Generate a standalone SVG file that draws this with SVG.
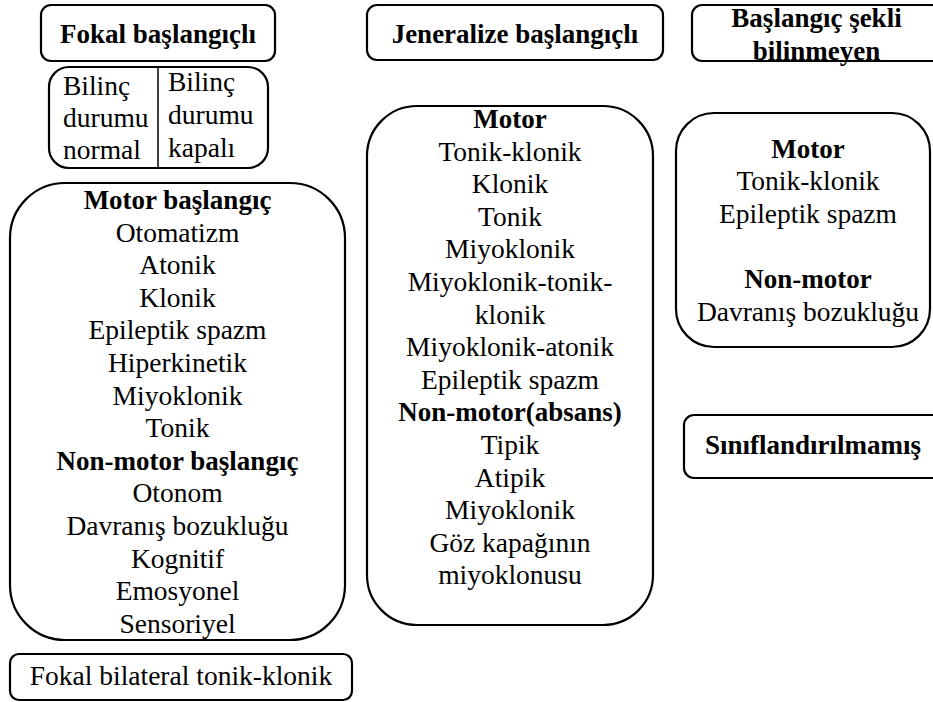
<svg xmlns="http://www.w3.org/2000/svg" width="933" height="702" viewBox="0 0 933 702">
<style>
.box{fill:#fff;stroke:#000;stroke-width:2.2}
.t{font-size:27.5px;fill:#000;text-anchor:middle}
.b{font-weight:bold;font-size:27px}
.l{text-anchor:start}
</style>
<rect width="933" height="702" fill="#fff"/>
<g id="connectors"></g>
<g id="nodes" font-family="Liberation Serif, Times New Roman, serif">
<g id="fokal">
<rect class="box" x="41" y="5" width="234" height="56" rx="10"/>
<text class="t b" x="158" y="43">Fokal başlangıçlı</text>
</g>
<g id="bilinc">
<rect class="box" x="49" y="67" width="219" height="101" rx="20"/>
<line x1="158" y1="67" x2="158" y2="168" stroke="#000" stroke-width="1.5"/>
<text class="t l" x="63" y="95">Bilinç</text>
<text class="t l" x="63" y="127">durumu</text>
<text class="t l" x="63" y="158.5">normal</text>
<text class="t l" x="168" y="91">Bilinç</text>
<text class="t l" x="168" y="123.5">durumu</text>
<text class="t l" x="168" y="156.5">kapalı</text>
</g>
<g id="fokal-types">
<rect class="box" x="10" y="183" width="335" height="457" rx="55"/>
<text class="t b" x="177.5" y="209">Motor başlangıç</text>
<text class="t" x="177.5" y="241.6">Otomatizm</text>
<text class="t" x="177.5" y="274.2">Atonik</text>
<text class="t" x="177.5" y="306.8">Klonik</text>
<text class="t" x="177.5" y="339.4">Epileptik spazm</text>
<text class="t" x="177.5" y="372">Hiperkinetik</text>
<text class="t" x="177.5" y="404.6">Miyoklonik</text>
<text class="t" x="177.5" y="437.2">Tonik</text>
<text class="t b" x="177.5" y="469.8">Non-motor başlangıç</text>
<text class="t" x="177.5" y="502.4">Otonom</text>
<text class="t" x="177.5" y="535">Davranış bozukluğu</text>
<text class="t" x="177.5" y="567.6">Kognitif</text>
<text class="t" x="177.5" y="600.2">Emosyonel</text>
<text class="t" x="177.5" y="632.8">Sensoriyel</text>
</g>
<g id="fokal-bilateral">
<rect class="box" x="10" y="654" width="342" height="46" rx="9"/>
<text class="t" x="181" y="685">Fokal bilateral tonik-klonik</text>
</g>
<g id="jeneralize">
<rect class="box" x="367" y="5" width="296" height="55" rx="10"/>
<text class="t b" x="515" y="43">Jeneralize başlangıçlı</text>
</g>
<g id="jeneralize-types">
<rect class="box" x="367" y="106" width="286" height="519" rx="50"/>
<text class="t b" x="510" y="128">Motor</text>
<text class="t" x="510" y="160.6">Tonik-klonik</text>
<text class="t" x="510" y="193.2">Klonik</text>
<text class="t" x="510" y="225.8">Tonik</text>
<text class="t" x="510" y="258.4">Miyoklonik</text>
<text class="t" x="510" y="291">Miyoklonik-tonik-</text>
<text class="t" x="510" y="323.6">klonik</text>
<text class="t" x="510" y="356.2">Miyoklonik-atonik</text>
<text class="t" x="510" y="388.8">Epileptik spazm</text>
<text class="t b" x="510" y="421.4">Non-motor(absans)</text>
<text class="t" x="510" y="454">Tipik</text>
<text class="t" x="510" y="486.6">Atipik</text>
<text class="t" x="510" y="519.2">Miyoklonik</text>
<text class="t" x="510" y="551.8">Göz kapağının</text>
<text class="t" x="510" y="584.4">miyoklonusu</text>
</g>
<g id="bilinmeyen">
<rect class="box" x="692" y="5" width="250" height="56" rx="10"/>
<text class="t b" x="816.5" y="27">Başlangıç şekli</text>
<text class="t b" x="816.5" y="60">bilinmeyen</text>
</g>
<g id="bilinmeyen-types">
<rect class="box" x="676" y="113" width="254" height="234" rx="38"/>
<text class="t b" x="808" y="157.5">Motor</text>
<text class="t" x="808" y="190.1">Tonik-klonik</text>
<text class="t" x="808" y="222.7">Epileptik spazm</text>
<text class="t b" x="808" y="287.9">Non-motor</text>
<text class="t" x="808" y="320.5">Davranış bozukluğu</text>
</g>
<g id="siniflandirilmamis">
<rect class="box" x="684" y="415" width="260" height="63" rx="10"/>
<text class="t b" x="813" y="454">Sınıflandırılmamış</text>
</g>
</g>
</svg>
